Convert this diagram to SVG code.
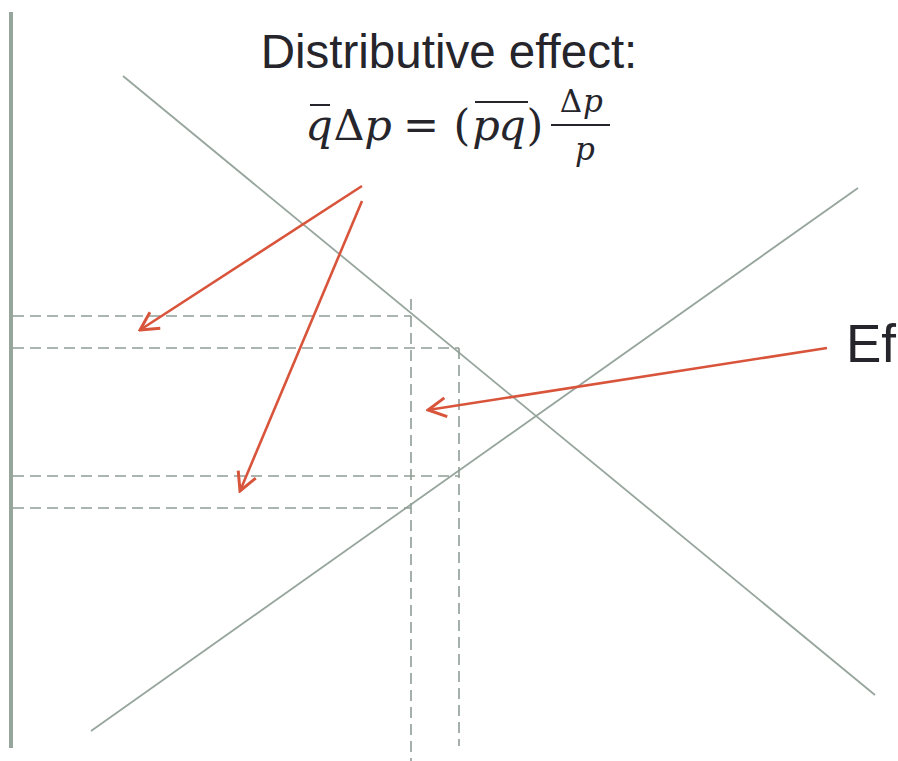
<svg xmlns="http://www.w3.org/2000/svg" width="898" height="761" viewBox="0 0 898 761">
<defs>
<style>
.axis{stroke:#97a69d;stroke-width:4;fill:none}
.curve{stroke:#97a69d;stroke-width:1.8;fill:none}
.dash{stroke:#8f9d96;stroke-width:1.6;stroke-dasharray:11 6;fill:none}
.arrow{stroke:#d8543b;stroke-width:2.6;fill:none;marker-end:url(#head)}
.lbl{font-family:"Liberation Sans",Arial,sans-serif;fill:#25252b}
.mi{font-family:"DejaVu Serif","Liberation Serif",serif;font-style:italic;fill:#25252b;text-anchor:middle}
.mu{font-family:"DejaVu Serif","Liberation Serif",serif;fill:#25252b;text-anchor:middle}
.bar{stroke:#25252b;stroke-width:2}
</style>
<marker id="head" markerUnits="userSpaceOnUse" viewBox="-22 -12 24 24" refX="0" refY="0" markerWidth="24" markerHeight="24" orient="auto">
<path d="M -18 -9.5 L 0 0 L -18 9.5" stroke="#d8543b" stroke-width="3" fill="none"/>
</marker>
</defs>
<rect width="898" height="761" fill="#ffffff"/>
<g id="axes">
<line class="axis" x1="11" y1="12" x2="11" y2="748"/>
</g>
<g id="demand">
<line class="curve" x1="123" y1="76" x2="875" y2="695"/>
</g>
<g id="supply">
<line class="curve" x1="91" y1="731" x2="858" y2="188"/>
</g>
<g id="guides">
<line class="dash" x1="13" y1="316" x2="411" y2="316"/>
<line class="dash" x1="13" y1="348" x2="459" y2="348"/>
<line class="dash" x1="13" y1="476" x2="459" y2="476"/>
<line class="dash" x1="13" y1="508" x2="411" y2="508"/>
<line class="dash" x1="411" y1="299" x2="411" y2="761"/>
<line class="dash" x1="459" y1="348" x2="459" y2="746"/>
</g>
<g id="connectors">
<line class="arrow" x1="362" y1="186" x2="140" y2="330"/>
<line class="arrow" x1="362" y1="201" x2="240" y2="491"/>
<line class="arrow" x1="827" y1="348" x2="428" y2="410"/>
</g>
<g id="title">
<text class="lbl" x="449" y="68" font-size="47.5" text-anchor="middle">Distributive effect:</text>
</g>
<g id="equation">
<text class="mi" x="319" y="140" font-size="43">q</text>
<line class="bar" x1="310" y1="105" x2="330" y2="105"/>
<text class="mu" x="349" y="140" font-size="43">Δ</text>
<text class="mi" x="378" y="140" font-size="43">p</text>
<text class="mu" x="421" y="140" font-size="43">=</text>
<text class="mu" x="462" y="140" font-size="43">(</text>
<text class="mi" x="486" y="140" font-size="43">p</text>
<text class="mi" x="512" y="140" font-size="43">q</text>
<line class="bar" x1="475" y1="102" x2="528" y2="102"/>
<text class="mu" x="535" y="140" font-size="43">)</text>
<line class="bar" x1="551" y1="125" x2="610" y2="125" stroke-width="2.5"/>
<text class="mu" x="571" y="112" font-size="31">Δ</text>
<text class="mi" x="593" y="112" font-size="31">p</text>
<text class="mi" x="585" y="160" font-size="31">p</text>
</g>
<g id="side-label">
<text class="lbl" x="846" y="362" font-size="53">Ef</text>
</g>
</svg>
